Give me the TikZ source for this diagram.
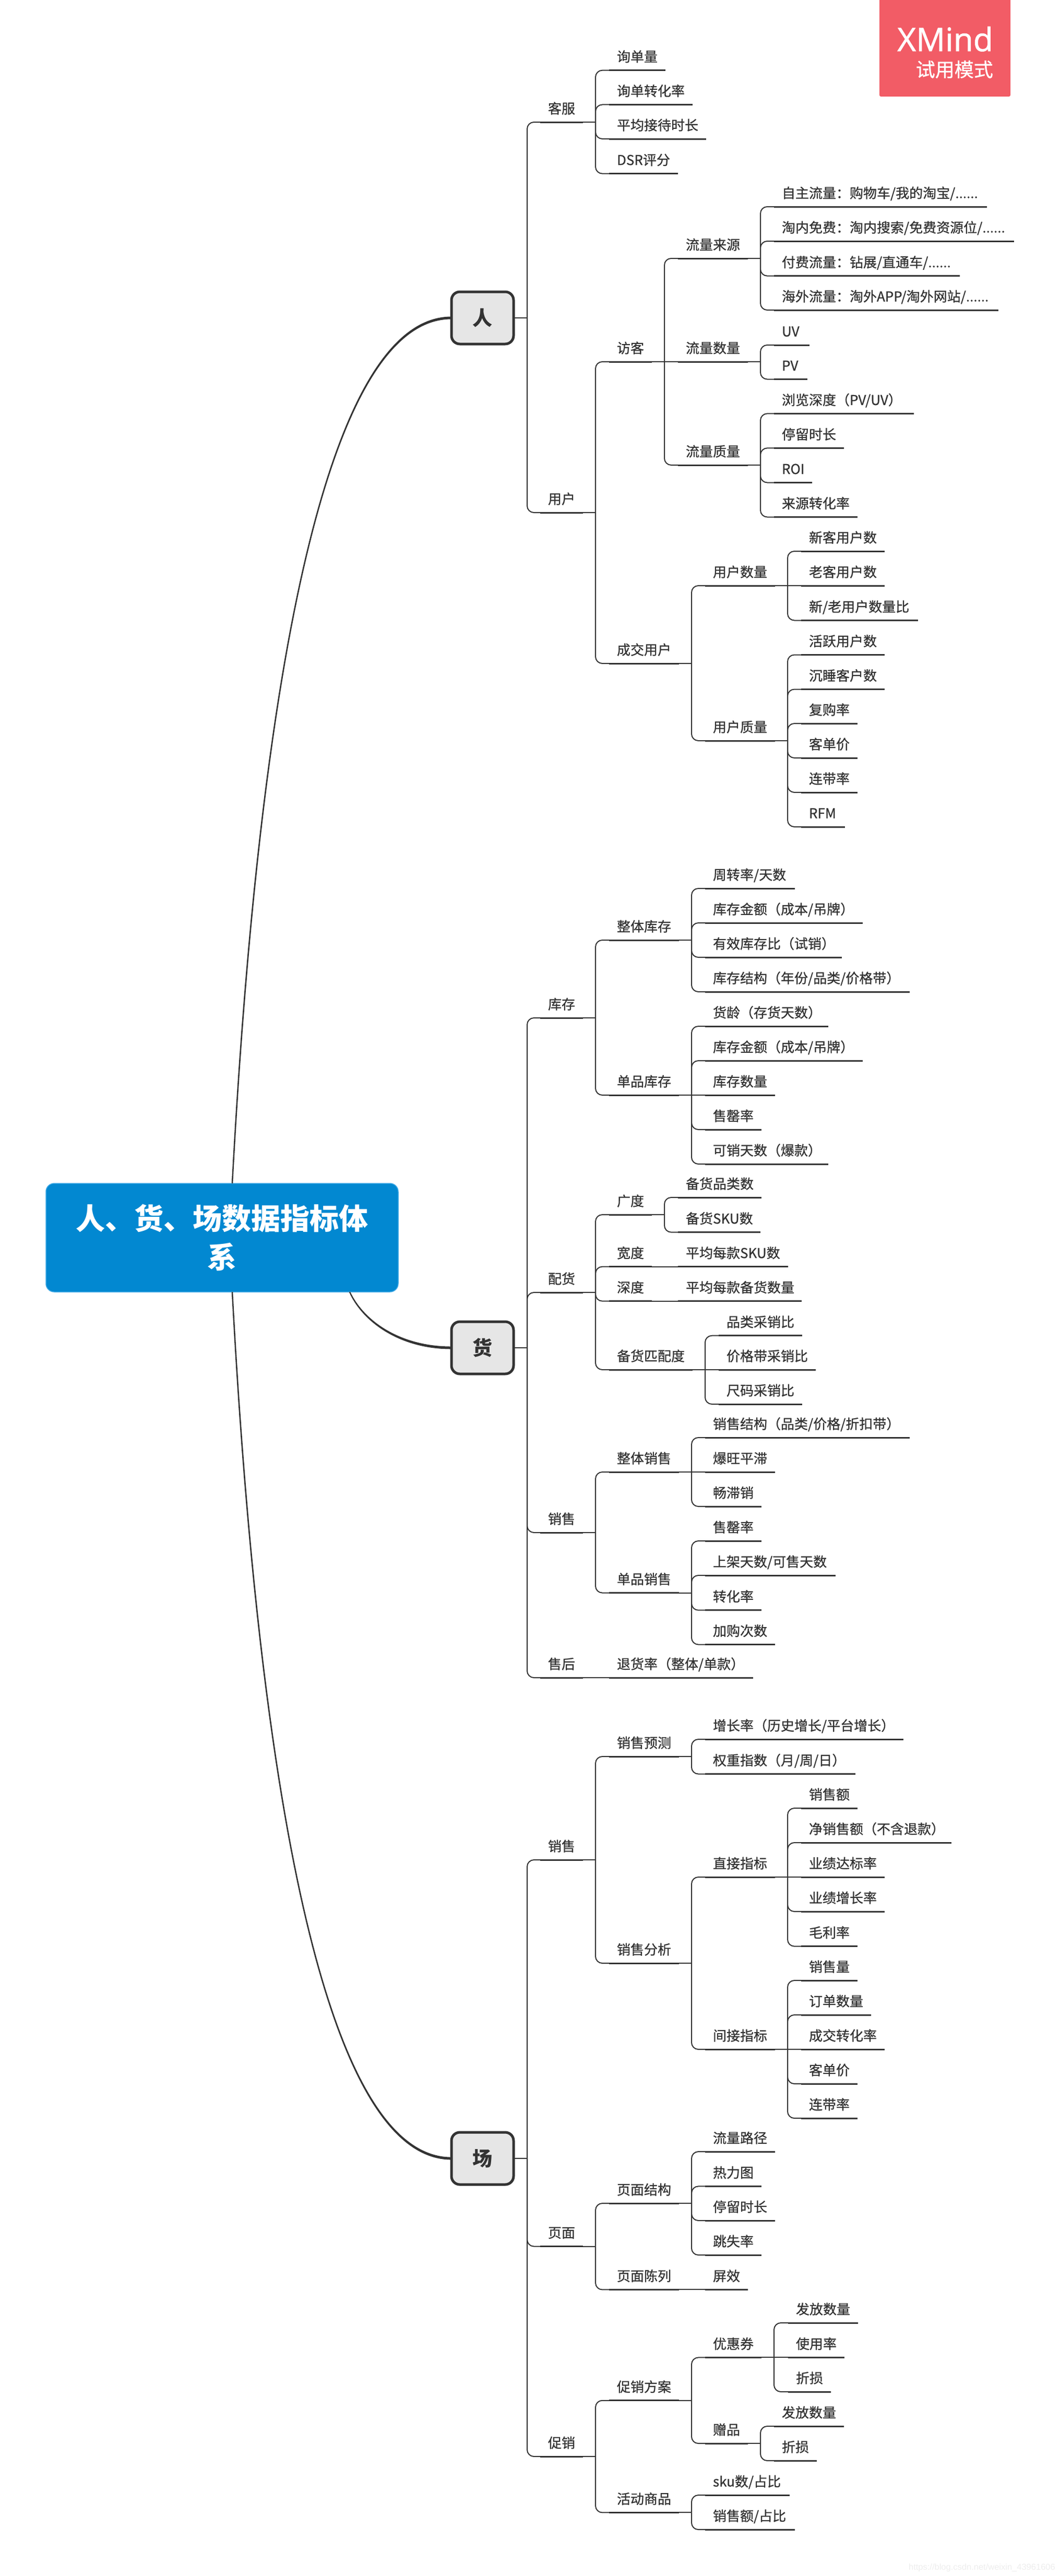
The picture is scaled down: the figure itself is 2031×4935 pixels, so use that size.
\documentclass[tikz,border=0pt]{standalone}
\usepackage{fontspec}
\setmainfont[UprightFeatures={FakeBold=0.8}]{Noto Sans CJK SC}
\newfontfamily\latinf[FakeBold=1.2]{Open Sans}
\newfontfamily\markf{Liberation Sans}
\usetikzlibrary{calc}
\definecolor{ink}{HTML}{333333}
\definecolor{topicblue}{HTML}{0288D1}
\definecolor{topicedge}{HTML}{3FA9E6}
\definecolor{branchgrey}{HTML}{E6E6E6}
\definecolor{badge}{HTML}{F25C66}
\definecolor{wmark}{HTML}{EDEDED}
\tikzset{
  x=1pt,y=-1pt,
  tp/.style={anchor=south west,inner xsep=15pt,inner ysep=0pt,outer sep=0pt,
    text=ink,font=\fontsize{26}{26}\selectfont,
    text height=23pt,text depth=16.5pt,
    append after command={(\tikzlastnode.south west) edge[topicline] (\tikzlastnode.south east)}},
  topicline/.style={draw=ink,line width=3pt},
  conn/.style={draw=ink,line width=2pt},
  corner/.style={conn,rounded corners=13pt},
  branchnode/.style={draw=ink,line width=5pt,fill=branchgrey,rounded corners=16pt,
    minimum width=119pt,minimum height=100pt,inner sep=0pt,outer sep=0pt,text=ink,
    font=\fontsize{38}{38}\selectfont\bfseries},
  rootnode/.style={draw=topicedge,line width=1.5pt,fill=topicblue,rounded corners=16pt,
    minimum width=675pt,minimum height=208pt,inner sep=0pt,outer sep=0pt,text=white,align=center,
    font=\fontsize{56}{74}\selectfont\bfseries},
  curvefill/.style={fill=ink,draw=none},
}
% underline width as measured on the reference
\newcommand{\W}[2]{\makebox[\dimexpr#1pt-30pt\relax][l]{#2}}
\newcommand{\conn}[2]{\draw[conn] (#1.south east) -- ++(24,0) coordinate (tmpspine);
  \draw[corner] (tmpspine) |- (#2.south west);}
\newcommand{\connm}[2]{\draw[conn] (#1.south east) -- (#2.south west);}
\newcommand{\brconn}[2]{\draw[conn] (#1.east) -- ++(26,0) coordinate (tmpspine);
  \draw[corner] (tmpspine) |- (#2.south west);}
\begin{document}
\begin{tikzpicture}
\useasboundingbox (0,0) rectangle (2031,4935);
% root and branches
\node[rootnode] (root) at (425.5,2371) {人、货、场数据指标体\\系};
\node[branchnode] (ren) at (924.5,609) {人};
\node[branchnode] (huo) at (924.5,2582) {货};
\node[branchnode] (chang) at (924.5,4135) {场};
% main curves, tapered towards the root
\fill[curvefill] ($(root.north)+(18.25,0)$) .. controls (476.5,1650) and (569,606.5) .. ($(ren.west)+(0,-2.5)$)
  -- ($(ren.west)+(0,2.5)$) .. controls (571,611.5) and (479.5,1650) .. ($(root.north)+(20.75,0)$) -- cycle;
\fill[curvefill] ($(root.south)+(245.75,0)$) .. controls (696.5,2529) and (765,2579.5) .. ($(huo.west)+(0,-2.5)$)
  -- ($(huo.west)+(0,2.5)$) .. controls (764,2584.5) and (693.5,2531) .. ($(root.south)+(243.25,0)$) -- cycle;
\fill[curvefill] ($(root.south)+(18.25,0)$) .. controls (476.5,3092) and (569,4137.5) .. ($(chang.west)+(0,2.5)$)
  -- ($(chang.west)+(0,-2.5)$) .. controls (571,4132.5) and (479.5,3092) .. ($(root.south)+(20.75,0)$) -- cycle;
% badge
\fill[badge,rounded corners=3pt] (1685,-6) rectangle (1936,185);
\node[anchor=base east,text=white,inner sep=0pt,font=\latinf\fontsize{62}{62}\selectfont] (bx) at (1903,98) {XMind};
\node[anchor=base east,text=white,inner sep=0pt,font=\fontsize{37}{37}\selectfont] (by) at (1903,147) {试用模式};
% watermark
\node[anchor=base east,text=wmark,inner sep=0pt,font=\markf\fontsize{16.5}{16.5}\selectfont] (wm) at (2022,4923) {https://blog.csdn.net/weixin\_43961606};
% ---------- ren
\node[tp] (kf) at (1035,234) {客服};
\node[tp] (kf1) at (1167,134.7) {询单量};
\node[tp] (kf2) at (1167,200.5) {询单转化率};
\node[tp] (kf3) at (1167,266) {平均接待时长};
\node[tp] (kf4) at (1167,332.6) {\W{132}{DSR评分}};
\node[tp] (yh) at (1035,982) {用户};
\node[tp] (fk) at (1167,693) {访客};
\node[tp] (lyl) at (1299,495) {流量来源};
\node[tp] (lyl1) at (1483,396) {\W{408}{自主流量：购物车/我的淘宝/......}};
\node[tp] (lyl2) at (1483,462) {\W{460}{淘内免费：淘内搜索/免费资源位/......}};
\node[tp] (lyl3) at (1483,528.6) {\W{356}{付费流量：钻展/直通车/......}};
\node[tp] (lyl4) at (1483,594) {\W{430}{海外流量：淘外APP/淘外网站/......}};
\node[tp] (lsl) at (1299,693) {流量数量};
\node[tp] (uv) at (1483,661) {\W{68}{UV}};
\node[tp] (pv) at (1483,726.5) {\W{64}{PV}};
\node[tp] (lzl) at (1299,891) {流量质量};
\node[tp] (lzl1) at (1483,792.4) {\W{268}{浏览深度（PV/UV）}};
\node[tp] (lzl2) at (1483,858.4) {停留时长};
\node[tp] (lzl3) at (1483,924.5) {\W{73}{ROI}};
\node[tp] (lzl4) at (1483,990.5) {来源转化率};
\node[tp] (cj) at (1167,1271) {成交用户};
\node[tp] (ysl) at (1351,1122) {用户数量};
\node[tp] (ysl1) at (1535,1056) {新客用户数};
\node[tp] (ysl2) at (1535,1122) {老客用户数};
\node[tp] (ysl3) at (1535,1188.5) {\W{224}{新/老用户数量比}};
\node[tp] (yzl) at (1351,1419) {用户质量};
\node[tp] (yzl1) at (1535,1254.5) {活跃用户数};
\node[tp] (yzl2) at (1535,1320.5) {沉睡客户数};
\node[tp] (yzl3) at (1535,1386) {复购率};
\node[tp] (yzl4) at (1535,1452) {客单价};
\node[tp] (yzl5) at (1535,1518) {连带率};
\node[tp] (yzl6) at (1535,1584) {\W{84}{RFM}};
\brconn{ren}{kf} \brconn{ren}{yh}
\conn{kf}{kf1} \conn{kf}{kf2} \conn{kf}{kf3} \conn{kf}{kf4}
\conn{yh}{fk} \conn{yh}{cj}
\conn{fk}{lyl} \connm{fk}{lsl} \conn{fk}{lzl}
\conn{lyl}{lyl1} \conn{lyl}{lyl2} \conn{lyl}{lyl3} \conn{lyl}{lyl4}
\conn{lsl}{uv} \conn{lsl}{pv}
\conn{lzl}{lzl1} \conn{lzl}{lzl2} \conn{lzl}{lzl3} \conn{lzl}{lzl4}
\conn{cj}{ysl} \conn{cj}{yzl}
\conn{ysl}{ysl1} \connm{ysl}{ysl2} \conn{ysl}{ysl3}
\conn{yzl}{yzl1} \conn{yzl}{yzl2} \conn{yzl}{yzl3} \conn{yzl}{yzl4} \conn{yzl}{yzl5} \conn{yzl}{yzl6}
% ---------- huo
\node[tp] (kc) at (1035,1950) {库存};
\node[tp] (ztkc) at (1167,1801) {整体库存};
\node[tp] (zk1) at (1351,1702) {\W{172}{周转率/天数}};
\node[tp] (zk2) at (1351,1768) {\W{302}{库存金额（成本/吊牌）}};
\node[tp] (zk3) at (1351,1834) {\W{262}{有效库存比（试销）}};
\node[tp] (zk4) at (1351,1900) {\W{392}{库存结构（年份/品类/价格带）}};
\node[tp] (dpkc) at (1167,2098) {单品库存};
\node[tp] (dk1) at (1351,1966) {\W{236}{货龄（存货天数）}};
\node[tp] (dk2) at (1351,2032) {\W{302}{库存金额（成本/吊牌）}};
\node[tp] (dk3) at (1351,2098) {库存数量};
\node[tp] (dk4) at (1351,2164) {售罄率};
\node[tp] (dk5) at (1351,2230) {\W{236}{可销天数（爆款）}};
\node[tp] (ph) at (1035,2476) {配货};
\node[tp] (gd) at (1167,2327) {广度};
\node[tp] (gd1) at (1299,2294) {备货品类数};
\node[tp] (gd2) at (1299,2360.6) {\W{158}{备货SKU数}};
\node[tp] (kd) at (1167,2426.6) {宽度};
\node[tp] (kd1) at (1299,2426.6) {\W{211}{平均每款SKU数}};
\node[tp] (sd) at (1167,2492.6) {深度};
\node[tp] (sd1) at (1299,2492.6) {\W{237}{平均每款备货数量}};
\node[tp] (pp) at (1167,2624) {备货匹配度};
\node[tp] (pp1) at (1377,2558.7) {品类采销比};
\node[tp] (pp2) at (1377,2624) {价格带采销比};
\node[tp] (pp3) at (1377,2690) {尺码采销比};
\node[tp] (xs) at (1035,2936) {销售};
\node[tp] (ztxs) at (1167,2820) {整体销售};
\node[tp] (zx1) at (1351,2754) {\W{392}{销售结构（品类/价格/折扣带）}};
\node[tp] (zx2) at (1351,2820) {爆旺平滞};
\node[tp] (zx3) at (1351,2886) {畅滞销};
\node[tp] (dpxs) at (1167,3051.5) {单品销售};
\node[tp] (dx1) at (1351,2952) {售罄率};
\node[tp] (dx2) at (1351,3018) {\W{250}{上架天数/可售天数}};
\node[tp] (dx3) at (1351,3084.7) {转化率};
\node[tp] (dx4) at (1351,3150.5) {加购次数};
\node[tp] (sh) at (1035,3214) {售后};
\node[tp] (sh1) at (1167,3214) {\W{276}{退货率（整体/单款）}};
\brconn{huo}{kc} \brconn{huo}{ph} \brconn{huo}{xs} \brconn{huo}{sh}
\conn{kc}{ztkc} \conn{kc}{dpkc}
\conn{ztkc}{zk1} \conn{ztkc}{zk2} \conn{ztkc}{zk3} \conn{ztkc}{zk4}
\conn{dpkc}{dk1} \conn{dpkc}{dk2} \connm{dpkc}{dk3} \conn{dpkc}{dk4} \conn{dpkc}{dk5}
\conn{ph}{gd} \conn{ph}{kd} \conn{ph}{sd} \conn{ph}{pp}
\conn{gd}{gd1} \conn{gd}{gd2} \connm{kd}{kd1} \connm{sd}{sd1}
\conn{pp}{pp1} \connm{pp}{pp2} \conn{pp}{pp3}
\conn{xs}{ztxs} \conn{xs}{dpxs}
\conn{ztxs}{zx1} \connm{ztxs}{zx2} \conn{ztxs}{zx3}
\conn{dpxs}{dx1} \conn{dpxs}{dx2} \conn{dpxs}{dx3} \conn{dpxs}{dx4}
\connm{sh}{sh1}
% ---------- chang
\node[tp] (cxs) at (1035,3563) {销售};
\node[tp] (yc) at (1167,3365) {销售预测};
\node[tp] (yc1) at (1351,3332) {\W{380}{增长率（历史增长/平台增长）}};
\node[tp] (yc2) at (1351,3398.5) {\W{288}{权重指数（月/周/日）}};
\node[tp] (fx) at (1167,3761) {销售分析};
\node[tp] (zj) at (1351,3596) {直接指标};
\node[tp] (zj1) at (1535,3464) {销售额};
\node[tp] (zj2) at (1535,3530) {\W{288}{净销售额（不含退款）}};
\node[tp] (zj3) at (1535,3596) {业绩达标率};
\node[tp] (zj4) at (1535,3662) {业绩增长率};
\node[tp] (zj5) at (1535,3728.6) {毛利率};
\node[tp] (jj) at (1351,3926) {间接指标};
\node[tp] (jj1) at (1535,3794) {销售量};
\node[tp] (jj2) at (1535,3860) {订单数量};
\node[tp] (jj3) at (1535,3926) {成交转化率};
\node[tp] (jj4) at (1535,3992) {客单价};
\node[tp] (jj5) at (1535,4058) {连带率};
\node[tp] (ym) at (1035,4303.5) {页面};
\node[tp] (jg) at (1167,4221) {页面结构};
\node[tp] (jg1) at (1351,4122) {流量路径};
\node[tp] (jg2) at (1351,4188.4) {热力图};
\node[tp] (jg3) at (1351,4254) {停留时长};
\node[tp] (jg4) at (1351,4320) {跳失率};
\node[tp] (cl) at (1167,4386.4) {页面陈列};
\node[tp] (cl1) at (1351,4386.4) {屏效};
\node[tp] (cx) at (1035,4706) {促销};
\node[tp] (fa) at (1167,4598.7) {促销方案};
\node[tp] (yhq) at (1351,4516.4) {优惠券};
\node[tp] (yhq1) at (1510,4450) {发放数量};
\node[tp] (yhq2) at (1510,4516.4) {使用率};
\node[tp] (yhq3) at (1510,4582) {折损};
\node[tp] (zp) at (1351,4681) {赠品};
\node[tp] (zp1) at (1483,4648) {发放数量};
\node[tp] (zp2) at (1483,4714) {折损};
\node[tp] (hd) at (1167,4813.4) {活动商品};
\node[tp] (hd1) at (1351,4780) {\W{162}{sku数/占比}};
\node[tp] (hd2) at (1351,4846) {\W{172}{销售额/占比}};
\brconn{chang}{cxs} \brconn{chang}{ym} \brconn{chang}{cx}
\conn{cxs}{yc} \conn{cxs}{fx}
\conn{yc}{yc1} \conn{yc}{yc2}
\conn{fx}{zj} \conn{fx}{jj}
\conn{zj}{zj1} \conn{zj}{zj2} \connm{zj}{zj3} \conn{zj}{zj4} \conn{zj}{zj5}
\conn{jj}{jj1} \conn{jj}{jj2} \connm{jj}{jj3} \conn{jj}{jj4} \conn{jj}{jj5}
\conn{ym}{jg} \conn{ym}{cl}
\conn{jg}{jg1} \conn{jg}{jg2} \conn{jg}{jg3} \conn{jg}{jg4}
\connm{cl}{cl1}
\conn{cx}{fa} \conn{cx}{hd}
\conn{fa}{yhq} \conn{fa}{zp}
\conn{yhq}{yhq1} \connm{yhq}{yhq2} \conn{yhq}{yhq3}
\conn{zp}{zp1} \conn{zp}{zp2}
\conn{hd}{hd1} \conn{hd}{hd2}
\end{tikzpicture}
\end{document}
